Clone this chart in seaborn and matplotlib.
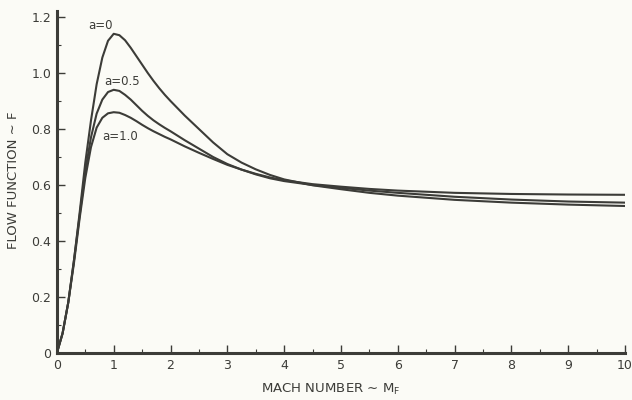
import numpy as np
import pandas as pd
import matplotlib
matplotlib.use("Agg")
import matplotlib.pyplot as plt
from matplotlib.ticker import MultipleLocator
import seaborn as sns

# Mach number stations
mach = [0.0, 0.1, 0.2, 0.3, 0.4, 0.5, 0.6, 0.7, 0.8, 0.9, 1.0,
        1.1, 1.2, 1.3, 1.4, 1.5, 1.6, 1.7, 1.8, 1.9, 2.0,
        2.25, 2.5, 2.75, 3.0, 3.25, 3.5, 3.75, 4.0, 4.5, 5.0, 5.5, 6.0,
        7.0, 8.0, 9.0, 10.0]

# flow function F for each a
f_a0 = [0.0, 0.07, 0.18, 0.33, 0.50, 0.68, 0.83, 0.96, 1.055, 1.115, 1.14,
        1.135, 1.117, 1.09, 1.06, 1.03, 1.0, 0.972, 0.946, 0.922, 0.9,
        0.848, 0.80, 0.752, 0.71, 0.68, 0.656, 0.636, 0.62, 0.599, 0.585, 0.572, 0.562,
        0.547, 0.537, 0.530, 0.525]
f_a05 = [0.0, 0.07, 0.18, 0.33, 0.49, 0.65, 0.77, 0.855, 0.905, 0.932, 0.94,
         0.936, 0.922, 0.905, 0.885, 0.865, 0.847, 0.831, 0.817, 0.804, 0.792,
         0.76, 0.73, 0.70, 0.675, 0.655, 0.638, 0.624, 0.614, 0.600, 0.590, 0.580, 0.572,
         0.558, 0.548, 0.541, 0.537]
f_a10 = [0.0, 0.07, 0.18, 0.32, 0.48, 0.625, 0.735, 0.805, 0.84, 0.856, 0.86,
         0.858, 0.85, 0.84, 0.828, 0.815, 0.803, 0.792, 0.782, 0.772, 0.763,
         0.738, 0.715, 0.693, 0.672, 0.655, 0.64, 0.627, 0.617, 0.603, 0.594, 0.586, 0.58,
         0.572, 0.568, 0.566, 0.565]

labels = ["a=0", "a=0.5", "a=1.0"]
label_pos = [(0.76, 1.17), (1.15, 0.97), (1.12, 0.775)]

xticks = list(range(11))
yticks = [0, 0.2, 0.4, 0.6, 0.8, 1.0, 1.2]
yticklabels = ["0", "0.2", "0.4", "0.6", "0.8", "1.0", "1.2"]

df = pd.DataFrame({"M": mach * 3,
                   "F": f_a0 + f_a05 + f_a10,
                   "a": [labels[0]] * len(mach) + [labels[1]] * len(mach) + [labels[2]] * len(mach)})

sns.set_style("ticks")
plt.rcParams['font.family'] = ['DejaVu Sans']
paper = "#fbfbf6"
ink = "#3c3c38"

fig = plt.figure(figsize=(6.32, 4.0), dpi=100, facecolor=paper)
ax = fig.add_axes([0.090, 0.1175, 0.899, 0.854], facecolor=paper)

sns.lineplot(data=df, x="M", y="F", hue="a", palette=[ink, ink, ink],
             linewidth=1.5, legend=False, ax=ax, sort=False)

for txt, (x, y) in zip(labels, label_pos):
    ax.text(x, y, txt, fontsize=8.5, color=ink, ha="center", va="center")

ax.set_xlim(0, 10)
ax.set_ylim(0, 1.22)
ax.set_xticks(xticks)
ax.set_xticklabels([str(i) for i in xticks])
ax.set_yticks(yticks)
ax.set_yticklabels(yticklabels)
ax.xaxis.set_minor_locator(MultipleLocator(0.5))
ax.yaxis.set_minor_locator(MultipleLocator(0.1))

ax.tick_params(which="major", direction="in", length=6, width=1, colors=ink, labelsize=9, pad=4)
ax.tick_params(which="minor", direction="in", length=3, width=0.8, colors=ink)

sns.despine(ax=ax)
for s in ["left", "bottom"]:
    ax.spines[s].set_linewidth(2.2)
    ax.spines[s].set_color(ink)

ax.set_xlabel("")
ax.set_ylabel("")
fig.text(0.524, 0.027, "MACH NUMBER \u223c M$_\\mathregular{F}$", fontsize=9.5, color=ink,
         ha="center", va="center")
fig.text(0.021, 0.55, "FLOW FUNCTION \u223c F", fontsize=9.5, color=ink,
         ha="center", va="center", rotation=90)

fig.savefig("out.png", dpi=100, facecolor=paper)
